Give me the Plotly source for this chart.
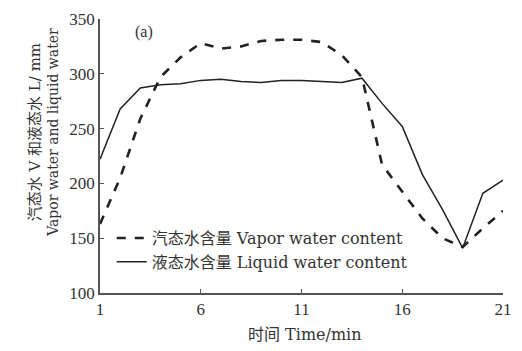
import plotly.graph_objects as go

# Time (min)
minutes = list(range(1, 22))
# Vapor water content V (mm)
vapor = [163, 205, 259, 297, 315, 328, 323, 325, 330, 331, 331,
         329, 317, 297, 217, 193, 168, 150, 142, 159, 175]
# Liquid water content L (mm)
liquid = [222, 268, 287, 290, 291, 294, 295, 293, 292, 294, 294,
          293, 292, 296, 273, 252, 208, 176, 141, 191, 203]

x_ticks = [1, 6, 11, 16, 21]
y_ticks = [100, 150, 200, 250, 300, 350]

serif = "Liberation Serif, Times New Roman, serif"
wide = "DejaVu Serif, Noto Sans CJK SC, serif"
ink = "#222222"
txt = "#333333"

W, H = 522, 351
ML, MR, MT, MB = 100, 10, 18, 58
PW, PH = W - ML - MR, H - MT - MB


def px(x):
    return (x - ML) / PW


def py(y):
    return (H - MB - y) / PH


fig = go.Figure()
fig.add_trace(go.Scatter(
    x=minutes, y=vapor, mode="lines",
    name="汽态水含量 Vapor water content",
    line=dict(color=ink, width=2.6, dash="dash"),
))
fig.add_trace(go.Scatter(
    x=minutes, y=liquid, mode="lines",
    name="液态水含量 Liquid water content",
    line=dict(color=ink, width=1.5),
))

fig.update_layout(
    width=W, height=H,
    margin=dict(l=ML, r=MR, t=MT, b=MB),
    paper_bgcolor="white", plot_bgcolor="white",
    font=dict(family=serif, color=txt, size=14),
    showlegend=True,
    legend=dict(
        x=px(112), y=py(279), xanchor="left", yanchor="bottom",
        bgcolor="rgba(0,0,0,0)", borderwidth=0,
        font=dict(family=wide, size=16, color=txt),
        tracegroupgap=0, itemwidth=30,
    ),
    xaxis=dict(
        range=[1, 21], tickvals=x_ticks, ticktext=[str(v) for v in x_ticks],
        showline=True, linecolor="#555555", linewidth=1.5,
        ticks="inside", ticklen=4, tickcolor="#555555",
        showgrid=False, zeroline=False,
        tickfont=dict(family=serif, size=17, color=txt),
    ),
    yaxis=dict(
        range=[100, 350], tickvals=y_ticks,
        showline=True, linecolor="#555555", linewidth=1.5,
        ticks="inside", ticklen=4, tickcolor="#555555",
        showgrid=False, zeroline=False,
        tickfont=dict(family=serif, size=17, color=txt),
    ),
    annotations=[
        dict(text="(a)", x=px(134), y=py(20), xref="paper", yref="paper",
             showarrow=False, xanchor="left", yanchor="top",
             font=dict(family=serif, size=16, color=txt)),
        dict(text="时间 Time/min", x=px(310), y=py(335), xref="paper", yref="paper",
             showarrow=False, xanchor="center", yanchor="middle",
             font=dict(family=wide, size=16, color=txt)),
        dict(text="汽态水 V 和液态水 L/ mm", x=px(22), y=py(132),
             xref="paper", yref="paper", showarrow=False, textangle=-90,
             font=dict(family=wide, size=15, color=txt)),
        dict(text="Vapor water and liquid water", x=px(41), y=py(132),
             xref="paper", yref="paper", showarrow=False, textangle=-90,
             font=dict(family=wide, size=14, color=txt)),
    ],
)

fig.write_html("out.html")
